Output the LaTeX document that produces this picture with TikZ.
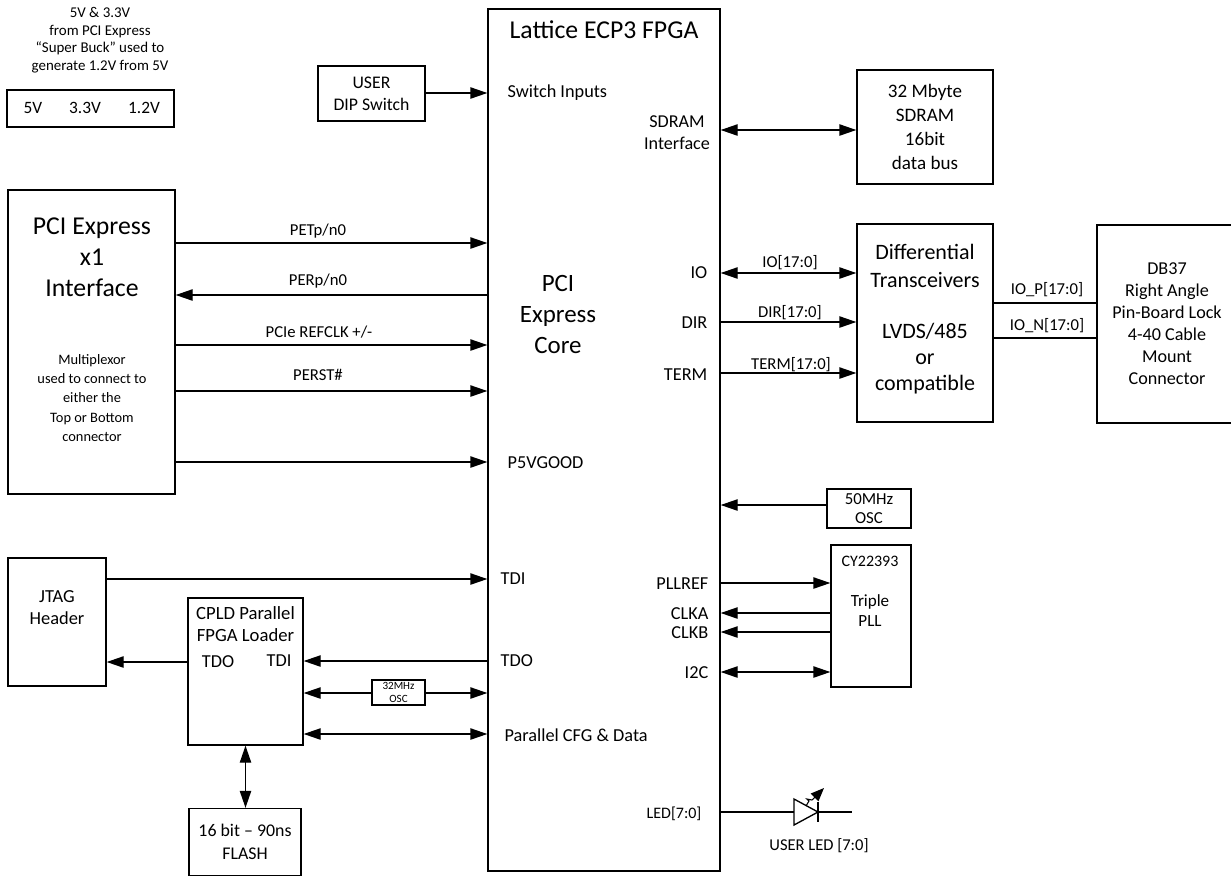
\documentclass[tikz,border=0pt]{standalone}
\usepackage{fontspec}
\setmainfont{Carlito}
\usetikzlibrary{arrows.meta}
\tikzset{
  box/.style n args={2}{draw,inner sep=0pt,align=center,minimum width=#1*0.75pt,minimum height=#2*0.75pt},
  fs/.style 2 args={font=\fontsize{#1pt}{#2pt}\selectfont},
  lab/.style 2 args={inner sep=0pt,align=center,fs={#1}{#2}},
  sig/.style={inner sep=0pt,fs={13.7}{16}},
  small/.style={inner sep=0pt,align=center,fs={12.5}{15}}
}
\begin{document}
\begin{tikzpicture}[x=0.75pt,y=-0.75pt,line width=1pt,>={Triangle[length=12.75pt,width=8.5pt]}]
  \useasboundingbox (0,0) rectangle (1231,876);
  % fpga
  \node[box={232}{862}] (fpga) at (604,440) {};
  \node[lab={19.3}{22}] (fpgatitle) at (604,30) {Lattice ECP3 FPGA};
  \node[lab={18.7}{23.25}] (core) at (558,314) {PCI\\Express\\Core};
  % power
  \node[lab={11.2}{13.2}] (note) at (100,40) {5V \& 3.3V\\from PCI Express\\“Super Buck” used to\\generate 1.2V from 5V};
  \node[box={167}{37}] (power) at (90.5,108.5) {};
  \foreach \x/\t/\n in {33/5V/pa,85/3.3V/pb,144/1.2V/pc}
    \node[lab={13}{15}] (\n) at (\x,108) {\t};
  % user dip switch
  \node[box={107}{55},fs={13.3}{16.5}] (dip) at (371.5,93.5) {USER\\DIP Switch};
  \draw[->] (dip.east |- 0,93) -- (fpga.west |- 0,93);
  \node[sig,anchor=west] (swin) at (507,93) {Switch Inputs};
  % pci express
  \node[box={167}{304}] (pci) at (91.5,342) {};
  \node[lab={19.3}{23.2}] (pcititle) at (92,257) {PCI Express\\x1\\Interface};
  \node[lab={10.8}{14.4}] (mux) at (92,398) {Multiplexor\\used to connect to\\either the\\Top or Bottom\\connector};
  \draw[->] (pci.east |- 0,243) -- (fpga.west |- 0,243);
  \draw[<-] (pci.east |- 0,295) -- (fpga.west |- 0,295);
  \draw[->] (pci.east |- 0,345) -- (fpga.west |- 0,345);
  \draw[->] (pci.east |- 0,391) -- (fpga.west |- 0,391);
  \draw[->] (pci.east |- 0,462) -- (fpga.west |- 0,462);
  \foreach \x/\y/\t/\n in {318/231/PETp{/}n0/pet,318/281/PERp{/}n0/per,319/332/PCIe REFCLK +{/}-/ref,318/375/PERST\#/rst}
    \node[small] (\n) at (\x,\y) {\t};
  \node[sig,anchor=west] (good) at (507,463) {P5VGOOD};
  % jtag and loader
  \node[box={98}{128}] (jtag) at (57,622) {};
  \node[lab={13.8}{16.5}] (jtagtxt) at (57,608) {JTAG\\Header};
  \node[box={115}{147}] (cpld) at (245.5,671.5) {};
  \node[lab={14}{16.5}] (cpldtxt) at (245.5,624.5) {CPLD Parallel\\FPGA Loader};
  \node[sig] (tdoa) at (218,662) {TDO};
  \node[sig] (tdia) at (279,661) {TDI};
  \node[box={112}{67},fs={13.4}{17.3}] (flash) at (245,842) {16 bit – 90ns\\FLASH};
  \node[box={53}{25},fs={8.3}{9.75}] (osc32) at (398.5,692.5) {32MHz\\OSC};
  \draw[->] (jtag.east |- 0,579) -- (fpga.west |- 0,579);
  \draw[->] (cpld.west |- 0,662) -- (jtag.east |- 0,662);
  \draw[<-] (cpld.east |- 0,661) -- (fpga.west |- 0,661);
  \draw[<-] (cpld.east |- 0,693) -- (osc32.west |- 0,693);
  \draw[->] (osc32.east |- 0,693) -- (fpga.west |- 0,693);
  \draw[<->] (cpld.east |- 0,734) -- (fpga.west |- 0,734);
  \draw[<->] (cpld.south) -- (cpld.south |- flash.north);
  \node[sig,anchor=west] (tdib) at (500,579) {TDI};
  \node[sig,anchor=west] (tdob) at (500,661) {TDO};
  \node[sig,anchor=west] (cfg) at (504,735) {Parallel CFG \& Data};
  % sdram
  \node[box={136}{114},fs={14.3}{17.8}] (sdram) at (925,127) {32 Mbyte\\SDRAM\\16bit\\data bus};
  \node[lab={13.6}{16.5}] (sdif) at (677,132.5) {SDRAM\\Interface};
  \draw[<->] (fpga.east |- 0,130) -- (sdram.west |- 0,130);
  % transceivers
  \node[box={136}{198}] (diff) at (925,323) {};
  \node[lab={16.5}{21}] (difftxta) at (925,266) {Differential\\Transceivers};
  \node[lab={16.5}{19.5}] (difftxtb) at (925,359) {LVDS/485\\or\\compatible};
  \draw[<->] (fpga.east |- 0,273) -- (diff.west |- 0,273);
  \draw[->] (fpga.east |- 0,322) -- (diff.west |- 0,322);
  \draw[->] (fpga.east |- 0,373) -- (diff.west |- 0,373);
  \foreach \y/\t/\n in {273/IO/io,323/DIR/dir,375/TERM/term}
    \node[sig,anchor=east] (\n) at (708,\y) {\t};
  \foreach \x/\y/\t/\n in {790/263/IO[17:0]/iob,790/313/DIR[17:0]/dirb,791/365/TERM[17:0]/termb}
    \node[small] (\n) at (\x,\y) {\t};
  % connector
  \node[box={140}{198},fs={13.6}{16.5}] (db) at (1167,324) {DB37\\Right Angle\\Pin-Board Lock\\4-40 Cable\\Mount\\Connector};
  \draw (diff.east |- 0,303) -- (db.west |- 0,303);
  \draw (diff.east |- 0,338) -- (db.west |- 0,338);
  \node[small] (iop) at (1047,290) {IO\_P[17:0]};
  \node[small] (ion) at (1047,326) {IO\_N[17:0]};
  % clocks
  \node[box={84}{39},fs={12.6}{14.5}] (osc) at (869,508.5) {50MHz\\OSC};
  \draw[->] (osc.west |- 0,505) -- (fpga.east |- 0,505);
  \node[box={80}{142}] (pll) at (871,616) {};
  \node[lab={12}{14}] (plla) at (870,561) {CY22393};
  \node[lab={12.8}{15}] (pllb) at (870,611) {Triple\\PLL};
  \draw[->] (fpga.east |- 0,583) -- (pll.west |- 0,583);
  \draw[->] (pll.west |- 0,613) -- (fpga.east |- 0,613);
  \draw[->] (pll.west |- 0,632) -- (fpga.east |- 0,632);
  \draw[<->] (fpga.east |- 0,672) -- (pll.west |- 0,672);
  \foreach \y/\t/\n in {584/PLLREF/pllref,614/CLKA/clka,633/CLKB/clkb,673/I2C/iic}
    \node[sig,anchor=east] (\n) at (709,\y) {\t};
  % led
  \coordinate (ledin) at (794,812);
  \coordinate (ledout) at (818,812);
  \coordinate (ledend) at (852,812);
  \draw (fpga.east |- ledin) -- (ledin);
  \draw (ledout) -- (ledend);
  \draw (794,799) -- (818,812) -- (794,825) -- cycle;
  \draw (818,802) -- (818,822);
  \draw[line width=0.8pt] (806,806) -- (809,801) -- (807,799) -- (812,800);
  \draw[-{Triangle[length=10pt,width=8pt]},line width=0.8pt] (812,800) -- (824,788);
  \node[lab={12}{14},anchor=east] (ledlab) at (702,814) {LED[7:0]};
  \node[lab={12.4}{14}] (ledname) at (819,846) {USER LED [7:0]};
\end{tikzpicture}
\end{document}
